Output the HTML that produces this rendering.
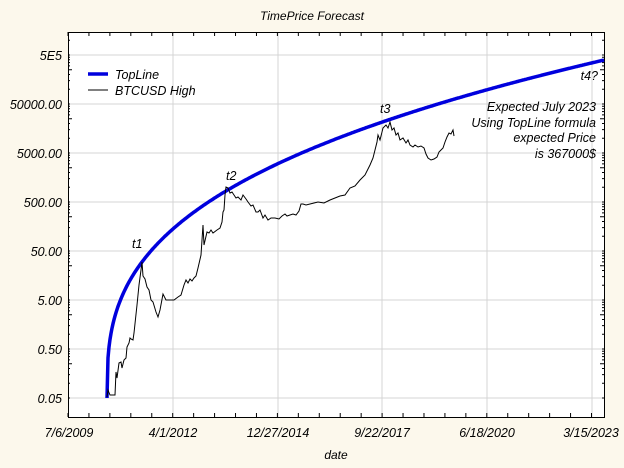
<!DOCTYPE html>
<html><head><meta charset="utf-8"><style>
body{margin:0;background:#fcf8ec;}
svg{display:block;font-family:"Liberation Sans",sans-serif;font-style:italic;}
</style></head><body>
<svg id="s" width="624" height="468" viewBox="0 0 624 468">
<rect x="0" y="0" width="624" height="468" fill="#fcf8ec"/>
<rect x="68" y="32" width="536" height="385" fill="#fff"/>
<g stroke="#d4d4d4" stroke-width="1">
<line x1="173" y1="32" x2="173" y2="417"/><line x1="278" y1="32" x2="278" y2="417"/>
<line x1="382" y1="32" x2="382" y2="417"/><line x1="487" y1="32" x2="487" y2="417"/>
<line x1="592" y1="32" x2="592" y2="417"/>
<line x1="68" y1="55" x2="604" y2="55"/><line x1="68" y1="104" x2="604" y2="104"/>
<line x1="68" y1="153" x2="604" y2="153"/><line x1="68" y1="202" x2="604" y2="202"/>
<line x1="68" y1="251" x2="604" y2="251"/><line x1="68" y1="300" x2="604" y2="300"/>
<line x1="68" y1="349" x2="604" y2="349"/><line x1="68" y1="398" x2="604" y2="398"/>
</g>
<g id="ticks" stroke="#000" stroke-width="1"></g>
<rect x="68.5" y="32.5" width="536" height="385" fill="none" stroke="#000"/>
<path id="top" fill="none" stroke="#0000dd" stroke-width="3.5"/>
<polyline fill="none" stroke="#000" stroke-width="1" points="107,397 108,390 110,395 113,395 115,395 116,372 117,378 119,363 121,362 122,368 124,360 126,358 127,347 129,343 130,338 131,339 133,340 134,333 137,305 139,285 141,270 142,262 143,276 145,279 147,287 149,290 151,300 153,302 156,312 158,317 160,310 163,294 166,300 170,300 174,300 178,297 181,295 184,285 186,280 188,283 190,279 192,281 194,278 196,276 198,268 201,255 202,240 203,225 204,245 207,232 209,233 211,230 213,233 217,230 220,228 222,222 223,212 224,210 225,195 226,187 228,188 230,193 232,192 234,195 236,198 238,197 241,200 243,195 246,199 248,202 251,206 253,205 256,212 258,212 260,210 263,218 265,215 268,220 271,218 275,218 279,219 282,216 285,214 287,216 290,215 293,214 296,215 299,211 301,204 303,204 306,205 310,204 314,203 318,202 324,203 330,200 335,198 340,196 345,195 350,188 355,186 360,180 365,175 370,165 373,158 375,150 377,142 378,135 380,140 383,128 386,125 388,128 390,122 392,130 394,128 396,135 398,133 400,140 403,138 406,143 408,140 410,145 413,147 415,145 418,147 421,146 424,148 426,154 428,158 431,160 434,159 437,157 439,152 441,150 443,148 445,142 447,137 449,133 451,134 453,130 454,136"/>
<g font-size="12.5" fill="#000">
<text x="312" y="20" text-anchor="middle" font-size="12">TimePrice Forecast</text>
<g text-anchor="end">
<text x="62" y="60">5E5</text><text x="62" y="109">50000.00</text><text x="62" y="158">5000.00</text>
<text x="62" y="207">500.00</text><text x="62" y="256">50.00</text><text x="62" y="305">5.00</text>
<text x="62" y="354">0.50</text><text x="62" y="403">0.05</text>
</g>
<g text-anchor="middle">
<text x="69" y="437">7/6/2009</text><text x="173" y="437">4/1/2012</text><text x="278" y="437">12/27/2014</text>
<text x="382" y="437">9/22/2017</text><text x="487" y="437">6/18/2020</text><text x="591" y="437">3/15/2023</text>
<text x="336" y="459" font-size="12">date</text>
</g>
<text x="115" y="79">TopLine</text><text x="115" y="95">BTCUSD High</text>
<text x="132" y="248">t1</text><text x="226" y="180">t2</text><text x="380" y="113">t3</text>
<text x="598" y="80" text-anchor="end">t4?</text>
<g text-anchor="end"><text x="596" y="111">Expected July 2023</text><text x="596" y="127">Using TopLine formula</text>
<text x="596" y="142">expected Price</text><text x="596" y="158">is 367000$</text></g>
</g>
<line x1="88" y1="74" x2="108" y2="74" stroke="#0000dd" stroke-width="3.5"/>
<line x1="88" y1="90" x2="108" y2="90" stroke="#000" stroke-width="1"/>
</svg>
<script>
var d="";for(var t=0;t<=497;t+=1){var tt=t===0?0.01:t;var x=107+tt;var y=398-49*0.82*Math.pow(tt,0.343);if(t===0)y=398;d+=(t?"L":"M")+x.toFixed(1)+","+y.toFixed(1);}
document.getElementById("top").setAttribute("d",d);
var g=document.getElementById("ticks"),s="";
for(var i=0;i<=26;i++){var x=68+i*104.7/5;if(x>604)break;s+='<line x1="'+x+'" y1="32" x2="'+x+'" y2="36"/><line x1="'+x+'" y1="413" x2="'+x+'" y2="417"/>';}
for(var k=0;k<8;k++){var base=398-k*49;for(var m=1;m<10;m++){var y=base-49*Math.log10(m*2)+49*Math.log10(2);if(y<33||y>417)continue;var l=m==5?4:2;s+='<line x1="68" y1="'+y+'" x2="'+(68+l)+'" y2="'+y+'"/><line x1="'+(604-l)+'" y1="'+y+'" x2="604" y2="'+y+'"/>';}}
g.innerHTML=s;
</script>
</body></html>
